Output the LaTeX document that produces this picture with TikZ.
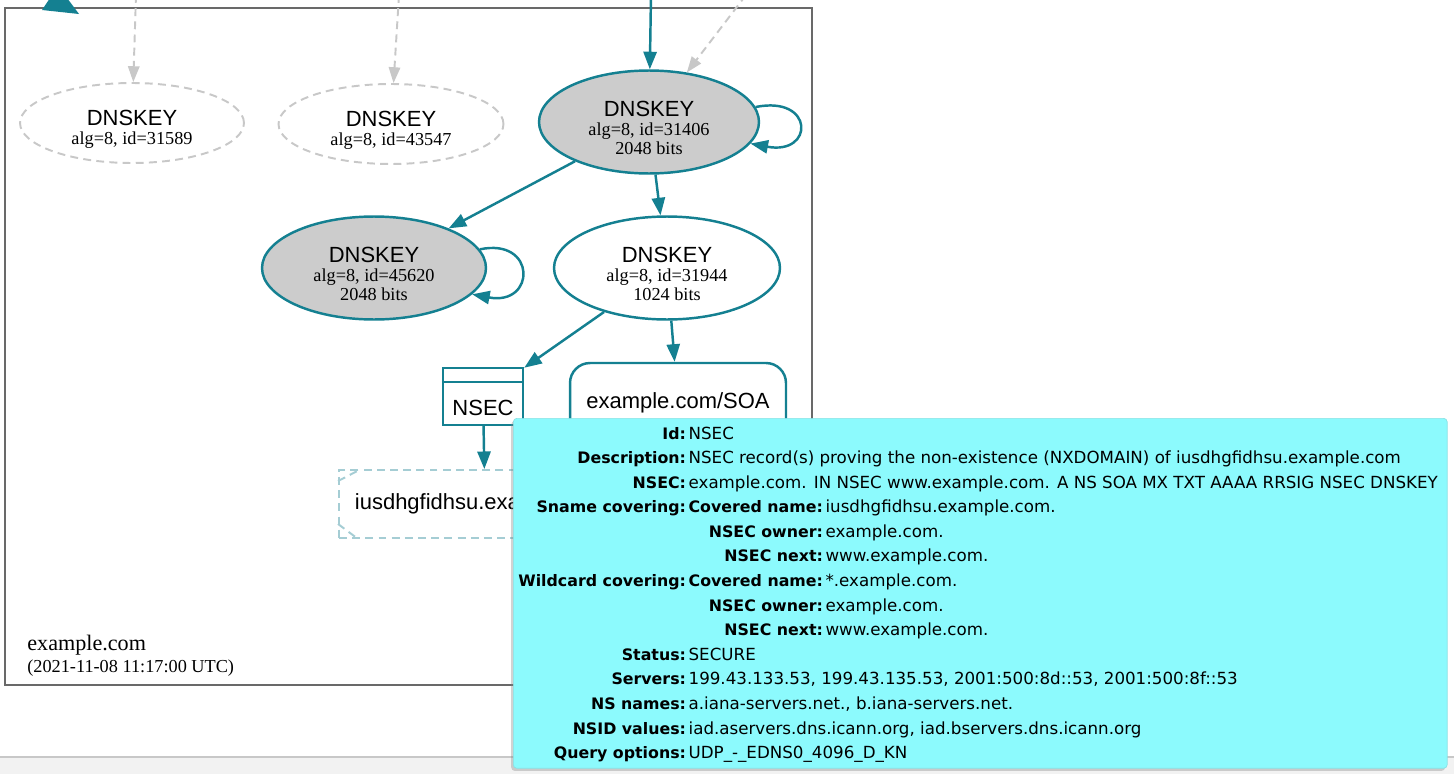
\documentclass[tikz,border=0pt]{standalone}
\usepackage{fontspec}
\setmainfont{Liberation Serif}
\setsansfont{Liberation Sans}
\newfontfamily\tipfont{DejaVu Sans}
\usepackage{array}
\usepackage{tikz}
\usetikzlibrary{shapes.geometric}
\usetikzlibrary{shadows}
\usetikzlibrary{arrows.meta}

\definecolor{dnsteal}{RGB}{20,128,145}
\definecolor{keygray}{RGB}{204,204,204}
\definecolor{oldgray}{RGB}{200,200,200}
\definecolor{nxline}{RGB}{165,205,212}
\definecolor{framegray}{RGB}{105,105,105}
\definecolor{tipcyan}{RGB}{140,250,253}
\definecolor{stripgray}{RGB}{242,242,242}

\newcommand{\keyhead}{{\rule{0pt}{15.5pt}\sffamily\fontsize{12.5}{15}\selectfont DNSKEY}}
\newcommand{\tiplab}{\fontsize{9}{14}\selectfont\bfseries}
\newcommand{\tipval}{\fontsize{9.5}{14}\selectfont}

\tikzset{
    dnskey/.style={ellipse, inner sep=0pt, align=center, font=\fontsize{10.4}{10.8}\selectfont},
    ksk/.style={dnskey, draw=dnsteal, fill=keygray, line width=1.4pt, minimum height=2.06cm},
    zsk/.style={dnskey, draw=dnsteal, fill=white, line width=1.4pt, minimum height=2.06cm},
    oldkey/.style={dnskey, draw=oldgray, line width=1.1pt, dash pattern=on 4.5pt off 3pt, minimum height=1.6cm},
    sanslabel/.style={font=\sffamily\fontsize{12.5}{15}\selectfont},
    recbox/.style={rectangle, draw=dnsteal, fill=white, line width=1.4pt, inner sep=0pt},
    soabox/.style={recbox, sanslabel, rounded corners=0.4cm, minimum width=4.32cm, minimum height=1.6cm},
    nxbox/.style={rectangle, draw=nxline, fill=white, line width=1.1pt, dash pattern=on 4.5pt off 3pt, sanslabel, minimum width=5.84cm, minimum height=1.36cm},
    nxdiag/.style={draw=nxline, line width=1.1pt, dash pattern=on 4.5pt off 3pt},
    secure/.style={draw=dnsteal, line width=1.4pt, -{Triangle[length=10pt,width=7.5pt]}},
    insecure/.style={draw=oldgray, line width=1.1pt, dash pattern=on 4.5pt off 3pt, -{Triangle[length=9pt,width=6.5pt]}},
    tipbox/.style={rectangle, fill=tipcyan, draw=tipcyan!80!gray, rounded corners=2pt, drop shadow={shadow xshift=-1.2pt, shadow yshift=-1.5pt, opacity=0.35, fill=gray}}
}

\begin{document}
\begin{tikzpicture}[x=0.02cm, y=-0.02cm]
    \useasboundingbox (0,0) rectangle (1454,774);
    \fill[white] (0,0) rectangle (1454,774);
    % bottom strip of the window
    \fill[stripgray] (0,757) rectangle (1454,774);
    \draw[oldgray, line width=1pt] (0,757) -- (1454,757);
    % zone frame
    \draw[framegray, line width=0.8pt] (5,8) rectangle (812,685);
    \fill[dnsteal] (42,10) -- (79,14) -- (58,-14) -- cycle;

    % keys
    \node[oldkey, minimum width=4.48cm] (k1) at (132,123) {\keyhead\\alg=8, id=31589};
    \node[oldkey, minimum width=4.5cm] (k2) at (391,124) {\keyhead\\alg=8, id=43547};
    \node[ksk, minimum width=4.4cm] (k3) at (649,122) {\keyhead\\alg=8, id=31406\\2048 bits};
    \node[ksk, minimum width=4.48cm] (k4) at (374,268) {\keyhead\\alg=8, id=45620\\2048 bits};
    \node[zsk, minimum width=4.52cm] (k5) at (667,268) {\keyhead\\alg=8, id=31944\\1024 bits};

    % records
    \node[recbox, minimum width=1.6cm, minimum height=1.14cm] (nsec) at (483,396.5) {};
    \node[sanslabel] (nseclbl) at (483,408) {NSEC};
    \draw[dnsteal, line width=1.4pt] ([yshift=-0.3cm]nsec.north west) -- ([yshift=-0.3cm]nsec.north east);
    \node[soabox] (soa) at (678,403) {example.com/SOA};
    \node[nxbox] (nx) at (485,504) {iusdhgfidhsu.example.com};
    \draw[nxdiag] ([yshift=-0.24cm]nx.north west) -- ([xshift=0.46cm]nx.north west);
    \draw[nxdiag] ([yshift=0.3cm]nx.south west) -- ([xshift=0.4cm]nx.south west);
    \draw[nxdiag] ([yshift=-0.24cm]nx.north east) -- ([xshift=-0.46cm]nx.north east);
    \draw[nxdiag] ([yshift=0.3cm]nx.south east) -- ([xshift=-0.4cm]nx.south east);

    % edges from outside the zone
    \coordinate (in1) at (136,-5);
    \coordinate (in2) at (399,-5);
    \coordinate (in3) at (651,-5);
    \coordinate (in4) at (746,-5);
    \draw[insecure] (in1) -- (k1);
    \draw[insecure] (in2) -- (k2);
    \draw[secure] (in3) -- (k3);
    \draw[insecure] (in4) -- (k3);

    % edges in the zone
    \draw[secure] (k3.8) .. controls +(59,-12) and +(64,12) .. (k3.-12);
    \draw[secure] (k4.10) .. controls +(57,-12) and +(64,12) .. (k4.-15);
    \draw[secure] (k3) -- (k4);
    \draw[secure] (k3) -- (k5);
    \draw[secure] (k5) -- (nsec);
    \draw[secure] (k5) -- (soa);
    \draw[secure] (nsec) -- (nx);

    \node[anchor=base west, inner sep=0pt, font=\fontsize{12.6}{14}\selectfont] (zonename) at (27,650) {example.com};
    \node[anchor=base west, inner sep=0pt, font=\fontsize{10.4}{12}\selectfont] (zonedate) at (27,672) {(2021-11-08 11:17:00 UTC)};

    % tooltip
    \node[tipbox, anchor=north west, minimum width=18.68cm, minimum height=7cm] (tip) at (513,418) {};
    \node[anchor=base west, inner sep=0pt, font=\tipfont\fontsize{9}{14}\selectfont] (tiptab) at (518,439) {
        \begin{tabular}[t]{@{}>{\tiplab}r@{\hspace{1.5pt}}>{\tipval}l@{}}
            Id: & NSEC \\
            Description: & NSEC record(s) proving the non-existence (NXDOMAIN) of iusdhgfidhsu.example.com \\
            NSEC: & example.com. IN NSEC www.example.com. A NS SOA MX TXT AAAA RRSIG NSEC DNSKEY \\
            Sname covering: & \begin{tabular}[t]{@{}>{\tiplab}r@{\hspace{1.5pt}}>{\tipval}l@{}}
                Covered name: & iusdhgfidhsu.example.com. \\
                NSEC owner: & example.com. \\
                NSEC next: & www.example.com.
            \end{tabular} \\[2pt]
            Wildcard covering: & \begin{tabular}[t]{@{}>{\tiplab}r@{\hspace{1.5pt}}>{\tipval}l@{}}
                Covered name: & *.example.com. \\
                NSEC owner: & example.com. \\
                NSEC next: & www.example.com.
            \end{tabular} \\
            Status: & SECURE \\
            Servers: & 199.43.133.53, 199.43.135.53, 2001:500:8d::53, 2001:500:8f::53 \\
            NS names: & a.iana-servers.net., b.iana-servers.net. \\
            NSID values: & iad.aservers.dns.icann.org, iad.bservers.dns.icann.org \\
            Query options: & UDP\_-\_EDNS0\_4096\_D\_KN
        \end{tabular}
    };
\end{tikzpicture}
\end{document}
